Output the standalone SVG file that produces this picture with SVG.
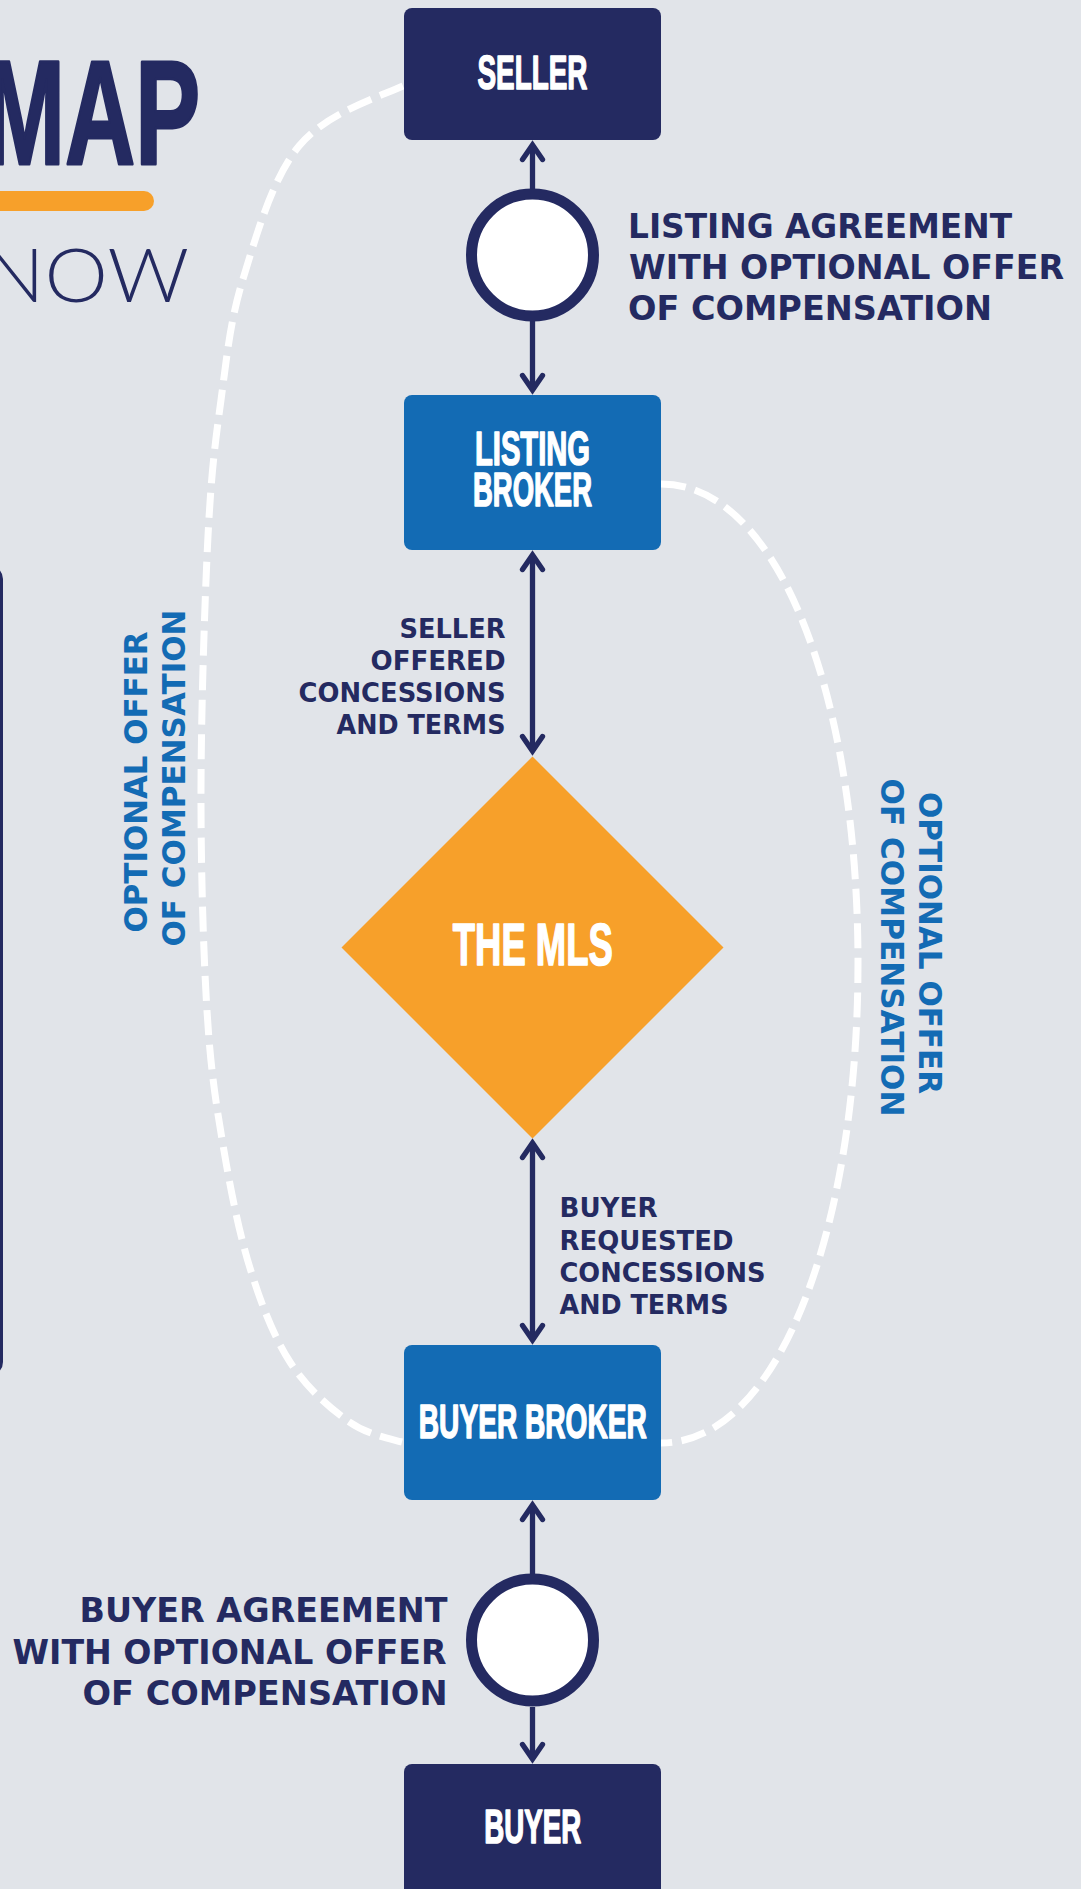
<svg xmlns="http://www.w3.org/2000/svg" width="1081" height="1889" viewBox="0 0 1081 1889">
  <defs>
    <style>
      .bg { fill: #E1E4E9; }
      .navy { fill: #242A61; }
      .blue { fill: #136BB4; }
      .orange { fill: #F7A02A; }
      .box-label { font-family: "Liberation Sans", Arial, sans-serif; font-weight: 700; fill: #FFFFFF; stroke: #FFFFFF; stroke-width: 1.6; stroke-linejoin: round; text-anchor: middle; }
      .note { font-family: "DejaVu Sans", sans-serif; font-weight: 700; fill: #242A61; }
      .note-26 { font-size: 26px; }
      .note-33 { font-size: 33px; }
      .side { font-family: "DejaVu Sans", sans-serif; font-weight: 700; font-size: 32px; fill: #136BB4; text-anchor: middle; }
      .end { text-anchor: end; }
      .link { stroke: #242A61; stroke-width: 5.3; fill: none; marker-end: url(#chev); }
      .both { marker-start: url(#chev); }
      .dash { stroke: #FFFFFF; stroke-width: 7; fill: none; stroke-dasharray: 25 9.5; }
      .ring { fill: #FFFFFF; stroke: #242A61; stroke-width: 11; }
    </style>
    <marker id="chev" markerUnits="userSpaceOnUse" orient="auto-start-reverse" refX="0" refY="0" markerWidth="40" markerHeight="40" viewBox="-20 -20 40 40" overflow="visible">
      <path d="M-14.5,-10 L0,0 L-14.5,10" fill="none" stroke="#242A61" stroke-width="5.3" stroke-linecap="round" stroke-linejoin="miter"/>
    </marker>
  </defs>

  <rect class="bg" x="0" y="0" width="1081" height="1889"/>

  <!-- title fragment -->
  <g id="title">
    <text x="200" y="163.5" font-family="Liberation Sans, Arial, sans-serif" font-weight="700" font-size="148" fill="#242A61" stroke="#242A61" stroke-width="3" stroke-linejoin="round" text-anchor="end" textLength="216" lengthAdjust="spacingAndGlyphs">MAP</text>
    <rect class="orange" x="-20" y="191" width="174" height="20" rx="10"/>
    <text x="189" y="302" font-family="Lato, 'Open Sans', sans-serif" font-weight="300" font-size="75" fill="#242A61" text-anchor="end" textLength="205" lengthAdjust="spacingAndGlyphs">NOW</text>
  </g>

  <!-- side panel edge -->
  <rect id="side-panel" x="-300" y="567" width="301.5" height="807" rx="12" fill="none" stroke="#242A61" stroke-width="3"/>

  <!-- connectors -->
  <g id="connectors">
    <path class="dash" d="M403,86 C374.5,98.7 325.7,113.8 299,146 C272.3,178.2 256,236.7 243,279 C230,321.3 226.8,357.2 221,400 C215.2,442.8 211.3,471.3 208,536 C204.7,600.7 201.2,708.8 201,788 C200.8,867.2 203.3,951.5 207,1011 C210.7,1070.5 215.8,1102.2 223,1145 C230.2,1187.8 238.8,1231.8 250,1268 C261.2,1304.2 273.7,1336.5 290,1362 C306.3,1387.5 329.3,1407.7 348,1421 C366.7,1434.3 386.7,1437.8 402,1442"/>
    <path class="dash" d="M661,484 C780,484 858,700 858,963 C858,1226 780,1443 661,1443"/>
    <path class="link" d="M532.5,189 V145"/>
    <path class="link" d="M532.5,321 V390"/>
    <path class="link both" d="M532.5,555 V751"/>
    <path class="link both" d="M532.5,1143 V1340"/>
    <path class="link" d="M532.5,1574 V1505"/>
    <path class="link" d="M532.5,1707 V1759"/>
  </g>

  <!-- nodes -->
  <g id="seller">
    <rect class="navy" x="404" y="8" width="257" height="132" rx="8"/>
    <text class="box-label" x="532.5" y="89.2" font-size="48.5" textLength="110" lengthAdjust="spacingAndGlyphs">SELLER</text>
  </g>

  <g id="listing-agreement">
    <circle class="ring" cx="532.5" cy="255" r="61"/>
  </g>

  <g id="listing-broker">
    <rect class="blue" x="404" y="395" width="257" height="155" rx="8"/>
    <text class="box-label" x="532.5" y="464.7" font-size="48.5" textLength="115" lengthAdjust="spacingAndGlyphs">LISTING</text>
    <text class="box-label" x="532.5" y="506.2" font-size="48.5" textLength="119" lengthAdjust="spacingAndGlyphs">BROKER</text>
  </g>

  <g id="mls">
    <polygon class="orange" points="532.5,756.5 723.5,947.5 532.5,1138.5 341.5,947.5"/>
    <text class="box-label" x="532.8" y="964.7" font-size="59" textLength="160" lengthAdjust="spacingAndGlyphs">THE MLS</text>
  </g>

  <g id="buyer-broker">
    <rect class="blue" x="404" y="1345" width="257" height="155" rx="8"/>
    <text class="box-label" x="532.8" y="1437.7" font-size="47.5" textLength="228" lengthAdjust="spacingAndGlyphs">BUYER BROKER</text>
  </g>

  <g id="buyer-agreement">
    <circle class="ring" cx="532.5" cy="1640" r="61"/>
  </g>

  <g id="buyer">
    <rect class="navy" x="404" y="1764" width="257" height="150" rx="8"/>
    <text class="box-label" x="532.7" y="1843.2" font-size="47.5" textLength="97" lengthAdjust="spacingAndGlyphs">BUYER</text>
  </g>

  <!-- labels -->
  <g id="label-listing-agreement" class="note note-33">
    <text x="628" y="237.5" textLength="384" lengthAdjust="spacingAndGlyphs">LISTING AGREEMENT</text>
    <text x="629" y="279" textLength="435" lengthAdjust="spacingAndGlyphs">WITH OPTIONAL OFFER</text>
    <text x="628" y="319.5" textLength="364" lengthAdjust="spacingAndGlyphs">OF COMPENSATION</text>
  </g>

  <g id="label-seller-terms" class="note note-26 end">
    <text x="505.5" y="638.3" textLength="106" lengthAdjust="spacingAndGlyphs">SELLER</text>
    <text x="505.5" y="670.4" textLength="135" lengthAdjust="spacingAndGlyphs">OFFERED</text>
    <text x="505.5" y="702" textLength="207" lengthAdjust="spacingAndGlyphs">CONCESSIONS</text>
    <text x="505.5" y="734" textLength="169" lengthAdjust="spacingAndGlyphs">AND TERMS</text>
  </g>

  <g id="label-buyer-terms" class="note note-26">
    <text x="559.5" y="1217.4" textLength="98" lengthAdjust="spacingAndGlyphs">BUYER</text>
    <text x="559.5" y="1250" textLength="174" lengthAdjust="spacingAndGlyphs">REQUESTED</text>
    <text x="559.5" y="1282" textLength="206" lengthAdjust="spacingAndGlyphs">CONCESSIONS</text>
    <text x="559.5" y="1313.5" textLength="169" lengthAdjust="spacingAndGlyphs">AND TERMS</text>
  </g>

  <g id="label-buyer-agreement" class="note note-33 end">
    <text x="447.5" y="1622" textLength="368" lengthAdjust="spacingAndGlyphs">BUYER AGREEMENT</text>
    <text x="446.5" y="1663.7" textLength="434" lengthAdjust="spacingAndGlyphs">WITH OPTIONAL OFFER</text>
    <text x="447.5" y="1705" textLength="365" lengthAdjust="spacingAndGlyphs">OF COMPENSATION</text>
  </g>

  <g id="label-offer-left" class="side">
    <text transform="translate(147,782) rotate(-90)" textLength="301" lengthAdjust="spacingAndGlyphs">OPTIONAL OFFER</text>
    <text transform="translate(185.3,778) rotate(-90)" textLength="337" lengthAdjust="spacingAndGlyphs">OF COMPENSATION</text>
  </g>

  <g id="label-offer-right" class="side">
    <text transform="translate(918.7,943) rotate(90)" textLength="302" lengthAdjust="spacingAndGlyphs">OPTIONAL OFFER</text>
    <text transform="translate(880.5,947.5) rotate(90)" textLength="338" lengthAdjust="spacingAndGlyphs">OF COMPENSATION</text>
  </g>
</svg>
